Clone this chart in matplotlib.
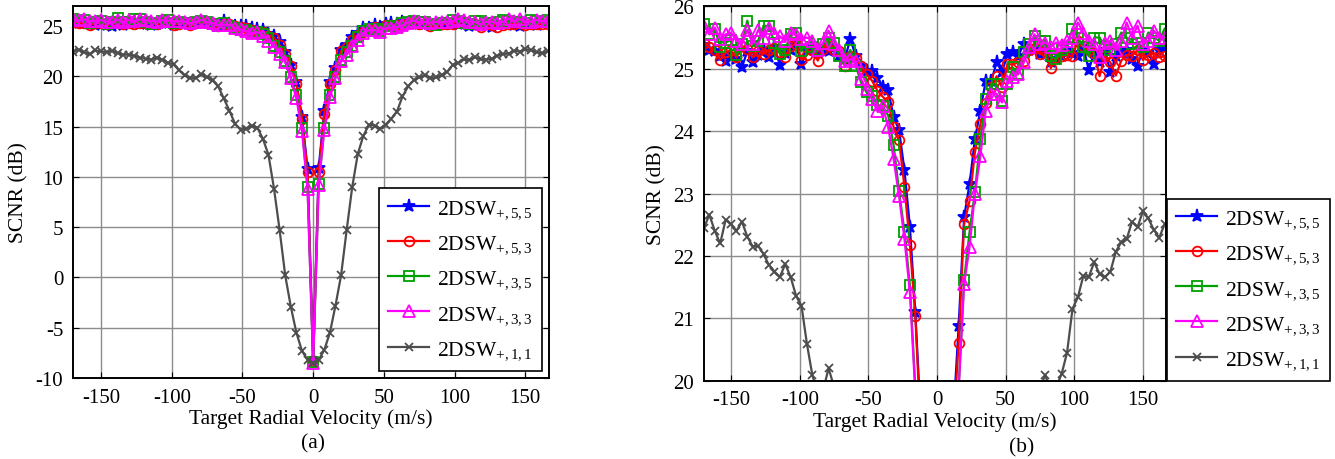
import numpy as np
import matplotlib
matplotlib.use("Agg")
import matplotlib.pyplot as plt

plt.rcParams['font.family'] = ['Liberation Serif', 'DejaVu Serif']
plt.rcParams['mathtext.fontset'] = 'custom'
plt.rcParams['mathtext.rm'] = 'Liberation Serif'
plt.rcParams['mathtext.it'] = 'Liberation Serif:italic'
plt.rcParams['axes.unicode_minus'] = False

# Doppler bins k = -43..42, about 3.95 m/s apart
velocity = np.arange(-43, 43) * 3.95

scnr_55 = [25.38, 25.30, 25.28, 25.20, 25.12, 25.22, 25.15, 25.02, 25.28, 25.10,
           25.22, 25.30, 25.18, 25.35, 25.06, 25.25, 25.30, 25.38, 25.07, 25.30,
           25.35, 25.25, 25.30, 25.28, 25.35, 25.20, 25.15, 25.48,
           25.20, 25.05, 24.97, 24.97, 24.85, 24.70, 24.66, 24.22, 24.02, 23.37, 22.47, 21.10,
           19.4, 16.0, 10.8, -8.3, 10.9, 16.6, 19.4,
           20.88, 22.62, 23.15, 23.87, 24.33, 24.81, 24.80, 25.10, 24.95, 25.23,
           25.26, 25.20, 25.40, 25.30, 25.35, 25.23, 25.30, 25.10, 25.15, 25.20,
           25.30, 25.25, 25.20, 25.35, 24.98, 25.25, 25.10, 25.30, 24.94, 25.20,
           25.25, 25.30, 25.15, 25.05, 25.30, 25.25, 25.07, 25.30, 25.34]

scnr_53 = [25.42, 25.34, 25.30, 25.14, 25.26, 25.30, 25.18, 25.36, 25.32, 25.18,
           25.28, 25.24, 25.30, 25.33, 25.27, 25.18, 25.36, 25.40, 25.14, 25.22,
           25.30, 25.13, 25.32, 25.36, 25.30, 25.28, 25.05, 25.20,
           25.17, 25.05, 24.91, 24.81, 24.65, 24.55, 24.46, 24.06, 23.85, 23.10, 22.18, 21.03,
           19.2, 15.8, 10.5, -8.3, 10.5, 16.3, 19.2,
           20.61, 22.51, 22.88, 23.66, 24.11, 24.45, 24.70, 24.88, 24.70, 25.07,
           25.07, 25.10, 25.12, 25.30, 25.33, 25.23, 25.28, 25.01, 25.18, 25.20,
           25.22, 25.20, 25.45, 25.37, 25.30, 25.25, 24.88, 25.20, 25.10, 24.89,
           25.13, 25.22, 25.21, 25.30, 25.14, 25.22, 25.25, 25.18, 25.20]

scnr_35 = [25.71, 25.55, 25.64, 25.35, 25.42, 25.46, 25.22, 25.40, 25.77, 25.36,
           25.45, 25.69, 25.68, 25.42, 25.24, 25.30, 25.55, 25.58, 25.28, 25.42,
           25.35, 25.30, 25.40, 25.50, 25.42, 25.20, 25.05, 25.30,
           25.05, 24.78, 24.62, 24.57, 24.42, 24.40, 24.25, 23.77, 23.04, 22.39, 21.53, 19.90,
           18.1, 14.9, 9.0, -8.4, 9.3, 14.9, 18.1,
           19.90, 21.61, 22.38, 23.03, 23.87, 24.51, 24.75, 24.75, 24.49, 24.75,
           25.02, 24.91, 25.26, 25.40, 25.53, 25.45, 25.45, 25.20, 25.15, 25.30,
           25.35, 25.64, 25.50, 25.35, 25.20, 25.50, 25.50, 25.35, 25.30, 25.40,
           25.58, 25.50, 25.40, 25.42, 25.35, 25.58, 25.50, 25.45, 25.64]

scnr_33 = [25.69, 25.56, 25.66, 25.48, 25.55, 25.58, 25.45, 25.40, 25.62, 25.40,
           25.62, 25.50, 25.66, 25.58, 25.52, 25.45, 25.58, 25.55, 25.48, 25.50,
           25.45, 25.30, 25.42, 25.61, 25.40, 25.30, 25.13, 25.15,
           25.13, 24.83, 24.67, 24.51, 24.33, 24.40, 24.06, 23.55, 22.96, 22.27, 21.42, 19.80,
           17.8, 14.6, 8.8, -8.5, 9.2, 14.7, 17.9,
           19.85, 21.55, 22.14, 23.00, 23.60, 24.33, 24.60, 24.60, 24.46, 24.80,
           24.86, 24.92, 25.10, 25.35, 25.55, 25.40, 25.42, 25.35, 25.42, 25.38,
           25.45, 25.50, 25.74, 25.58, 25.45, 25.40, 25.18, 25.42, 25.45, 25.30,
           25.45, 25.74, 25.50, 25.69, 25.40, 25.45, 25.61, 25.50, 25.50]

scnr_11 = [22.45, 22.66, 22.40, 22.20, 22.58, 22.51, 22.40, 22.55, 22.31, 22.15,
           22.16, 22.03, 21.85, 21.75, 21.66, 21.87, 21.66, 21.36, 21.20, 20.59,
           20.09, 19.80, 19.85, 20.20, 19.90, 19.60, 19.00, 17.80, 16.60, 15.30,
           14.70, 14.80, 15.10, 14.90, 13.80, 12.20, 8.80, 4.70, 0.20, -2.90,
           -5.50, -7.30, -8.20, -8.50, -8.20, -7.20, -5.50, -2.80, 0.20, 4.70,
           9.00, 12.30, 14.10, 15.20, 15.10, 14.80, 15.20, 15.80, 16.50, 18.00,
           19.00, 19.60, 19.90, 20.09, 19.80, 19.90, 20.11, 20.45, 21.15, 21.34,
           21.68, 21.66, 21.90, 21.71, 21.66, 21.75, 22.07, 22.22, 22.27, 22.55,
           22.46, 22.72, 22.60, 22.42, 22.29, 22.51]

labels = ['2DSW$_{\\mathrm{+,5,5}}$', '2DSW$_{\\mathrm{+,5,3}}$', '2DSW$_{\\mathrm{+,3,5}}$',
          '2DSW$_{\\mathrm{+,3,3}}$', '2DSW$_{\\mathrm{+,1,1}}$']
series = [scnr_55, scnr_53, scnr_35, scnr_33, scnr_11]
colors = ['#0000ff', '#ff0000', '#00a000', '#ff00ff', '#4d4d4d']
markers = ['*', 'o', 's', '^', 'x']
msizes = [9.5, 7, 6.5, 8, 5.5]

fig = plt.figure(figsize=(13.35, 4.6), dpi=100)
ax_a = fig.add_axes([0.0547, 0.1761, 0.3566, 0.8087])
ax_b = fig.add_axes([0.5273, 0.1702, 0.3461, 0.8139])


def draw(ax, ylim, yticks):
    for y, lab, c, m, ms in zip(series, labels, colors, markers, msizes):
        ax.plot(velocity, y, color=c, marker=m, markersize=ms, lw=1.6,
                markerfacecolor='none' if m not in ('*', 'x') else c,
                markeredgewidth=1.3, label=lab)
    ax.set_xlim(velocity[0], velocity[-1] + 1)
    ax.set_ylim(*ylim)
    ax.set_xticks([-150, -100, -50, 0, 50, 100, 150])
    ax.set_yticks(yticks)
    ax.grid(True, color='#8c8c8c', lw=1.0)
    ax.tick_params(direction='in', top=True, right=True, length=4,
                   labelsize=15, pad=7)
    for sp in ax.spines.values():
        sp.set_linewidth(1.4)
    ax.set_xlabel('Target Radial Velocity (m/s)', fontsize=15.5, labelpad=1)
    ax.set_ylabel('SCNR (dB)', fontsize=15.5, labelpad=5)


draw(ax_a, (-10, 27), range(-10, 26, 5))
draw(ax_b, (20, 26), range(20, 27))

leg_kw = dict(fontsize=15.5, frameon=True, fancybox=False, edgecolor='black',
              framealpha=1, borderaxespad=0, handlelength=1.9, labelspacing=0.62,
              borderpad=0.45, handletextpad=0.35)
la = ax_a.legend(loc='lower right', bbox_to_anchor=(0.985, 0.02), **leg_kw)
lb = ax_b.legend(loc='lower left', bbox_to_anchor=(1.0015, 0.0), **leg_kw)
for lg in (la, lb):
    lg.get_frame().set_linewidth(1.2)

fig.text(313 / 1335, 1 - 444 / 460, '(a)', ha='center', va='center', fontsize=15.5)
fig.text(1022 / 1335, 1 - 448 / 460, '(b)', ha='center', va='center', fontsize=15.5)

fig.savefig('out.png', dpi=100)
